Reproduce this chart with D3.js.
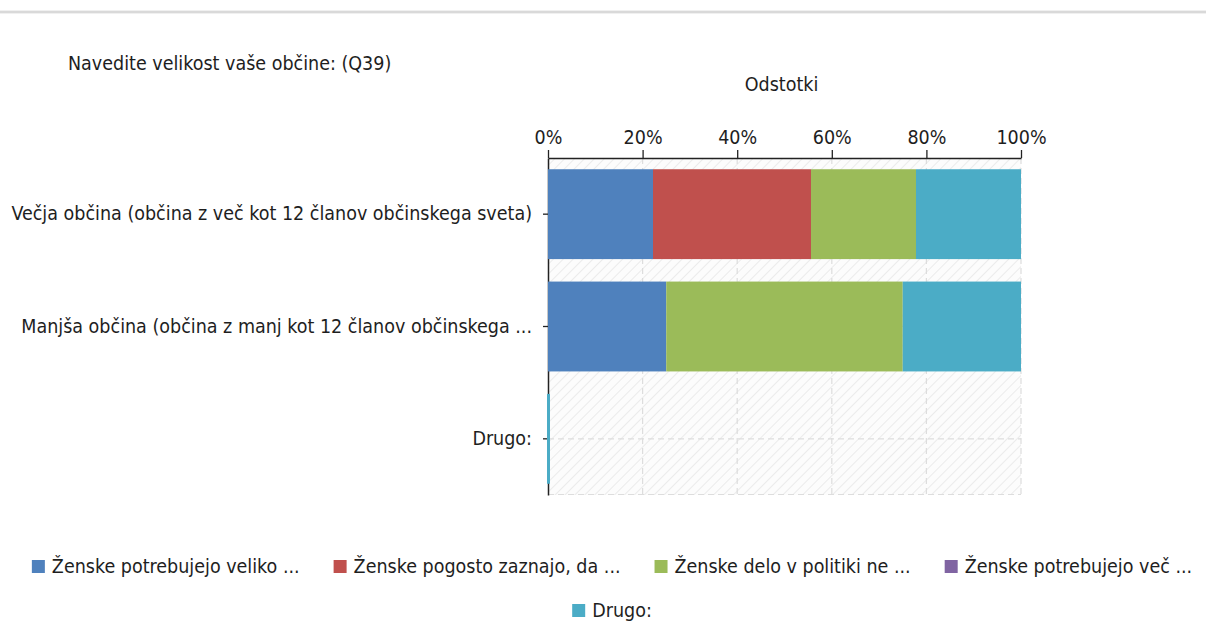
<!DOCTYPE html>
<html>
<head>
<meta charset="utf-8">
<script src="https://cdn.jsdelivr.net/npm/d3@7.9.0/dist/d3.min.js"></script>
<style>
  body { margin: 0; background: #fff; }
  svg { display: block; font-family: "DejaVu Sans Condensed", "DejaVu Sans", sans-serif; }
</style>
</head>
<body>
<svg id="chart" width="1206" height="626"></svg>
<script>
const title = 'Navedite velikost vaše občine: (Q39)';
const axisTitle = 'Odstotki';
const categories = [
  'Večja občina (občina z več kot 12 članov občinskega sveta)',
  'Manjša občina (občina z manj kot 12 članov občinskega ...',
  'Drugo:'
];
const seriesNames = [
  'Ženske potrebujejo veliko ...',
  'Ženske pogosto zaznajo, da ...',
  'Ženske delo v politiki ne ...',
  'Ženske potrebujejo več ...',
  'Drugo:'
];
const seriesColors = ['#4f81bd', '#c0504d', '#9bbb59', '#8064a2', '#4bacc6'];
// percent per category, one array per series
const s1 = [22.2, 25, 0];
const s2 = [33.4, 0, 0];
const s3 = [22.2, 50, 0];
const s4 = [0, 0, 0];
const s5 = [22.2, 25, 0.4];
const xTicks = [0, 20, 40, 60, 80, 100];

const fs = 19.5, ink = '#1e1e1e';
const svg = d3.select('#chart');
const pLeft = 548, pRight = 1021, pTop = 158, pBottom = 495;

// thin gray line at top of page
svg.append('rect').attr('x', 0).attr('y', 10).attr('width', 1206).attr('height', 4).attr('fill', '#d9d9d9').attr('opacity', 0.4);
svg.append('rect').attr('x', 0).attr('y', 11).attr('width', 1206).attr('height', 2).attr('fill', '#d9d9d9');

const x = d3.scaleLinear().domain([0, 100]).range([pLeft, pRight]);
const y = d3.scaleBand().domain(categories).range([pTop, pBottom]).paddingInner(0.2).paddingOuter(0.1);

// hatched background
const defs = svg.append('defs');
const pat = defs.append('pattern').attr('id', 'hatch').attr('patternUnits', 'userSpaceOnUse')
  .attr('width', 7).attr('height', 7).attr('patternTransform', 'rotate(45)');
pat.append('rect').attr('width', 7).attr('height', 7).attr('fill', '#fcfcfc');
pat.append('line').attr('x1', 0).attr('y1', 0).attr('x2', 0).attr('y2', 7)
  .attr('stroke', '#ebebeb').attr('stroke-width', 2);

svg.append('rect').attr('x', pLeft).attr('y', pTop).attr('width', pRight - pLeft).attr('height', pBottom - pTop)
  .attr('fill', 'url(#hatch)');

// grid lines
const grid = svg.append('g').attr('stroke', '#dddddd').attr('stroke-dasharray', '6,4').attr('stroke-width', 1.2);
xTicks.slice(1).forEach(t => {
  grid.append('line').attr('x1', x(t)).attr('x2', x(t)).attr('y1', pTop).attr('y2', pBottom);
});
categories.forEach(c => {
  const cy = y(c) + y.bandwidth() / 2;
  grid.append('line').attr('x1', pLeft).attr('x2', pRight).attr('y1', cy).attr('y2', cy);
});
grid.append('line').attr('x1', pLeft).attr('x2', pRight).attr('y1', pBottom - 0.5).attr('y2', pBottom - 0.5);

// top axis
const xAxis = svg.append('g').attr('transform', `translate(0,${pTop})`)
  .call(d3.axisTop(x).tickValues(xTicks).tickFormat(d => d + '%').tickSize(8).tickSizeOuter(0).tickPadding(6));
xAxis.select('.domain').attr('stroke', '#222').attr('stroke-width', 1.5);
xAxis.selectAll('.tick line').attr('stroke', '#222').attr('stroke-width', 1.3);
xAxis.selectAll('.tick text').attr('font-size', fs).attr('fill', ink)
  .attr('font-family', '"DejaVu Sans Condensed", "DejaVu Sans", sans-serif');

// left axis
const yAxis = svg.append('g').attr('transform', `translate(${pLeft},0)`)
  .call(d3.axisLeft(y).tickSize(5).tickSizeOuter(0).tickPadding(11));
yAxis.select('.domain').attr('stroke', '#222').attr('stroke-width', 1.5);
yAxis.selectAll('.tick line').attr('stroke', '#222').attr('stroke-width', 1.3);
yAxis.selectAll('.tick text').attr('font-size', fs).attr('fill', ink)
  .attr('font-family', '"DejaVu Sans Condensed", "DejaVu Sans", sans-serif');

// stacked bars (drawn over the axis line)
const table = categories.map((c, i) => {
  const row = { cat: c };
  [s1, s2, s3, s4, s5].forEach((s, j) => { row['s' + j] = s[i]; });
  return row;
});
const keys = seriesNames.map((d, j) => 's' + j);
const stack = d3.stack().keys(keys)(table);

svg.append('g').selectAll('g').data(stack).join('g')
  .attr('fill', (d, j) => seriesColors[j])
  .selectAll('rect').data(d => d.filter(p => p[1] - p[0] > 0)).join('rect')
  .attr('x', p => x(p[0]) - (p[1] - p[0] < 1 ? 1 : 0))
  .attr('y', p => y(p.data.cat))
  .attr('width', p => Math.max(x(p[1]) - x(p[0]), 3))
  .attr('height', y.bandwidth());

// titles
svg.append('text').attr('x', 68).attr('y', 70).attr('font-size', fs).attr('fill', ink).text(title);
svg.append('text').attr('x', (pLeft + pRight) / 2 - 3).attr('y', 91).attr('text-anchor', 'middle')
  .attr('font-size', fs).attr('fill', ink).text(axisTitle);

// legend
const legend = svg.append('g');
const row1 = seriesNames.slice(0, 4), gap = 34, sw = 13, textOff = 20;
const items = legend.selectAll('g.li').data(row1).join('g').attr('class', 'li');
items.append('rect').attr('width', sw).attr('height', sw).attr('fill', (d, i) => seriesColors[i]);
items.append('text').attr('x', textOff).attr('y', 13).attr('font-size', fs).attr('fill', ink).text(d => d);
const widths = [];
items.each(function () { widths.push(textOff + this.querySelector('text').getComputedTextLength()); });
const total = d3.sum(widths) + gap * (widths.length - 1);
let cx = 612 - total / 2;
items.each(function (d, i) {
  d3.select(this).attr('transform', `translate(${cx},${560})`);
  cx += widths[i] + gap;
});
const last = legend.append('g');
last.append('rect').attr('width', sw).attr('height', sw).attr('fill', seriesColors[4]);
last.append('text').attr('x', textOff).attr('y', 13).attr('font-size', fs).attr('fill', ink).text(seriesNames[4]);
const lw = textOff + last.select('text').node().getComputedTextLength();
last.attr('transform', `translate(${612 - lw / 2},${604})`);
</script>
</body>
</html>
